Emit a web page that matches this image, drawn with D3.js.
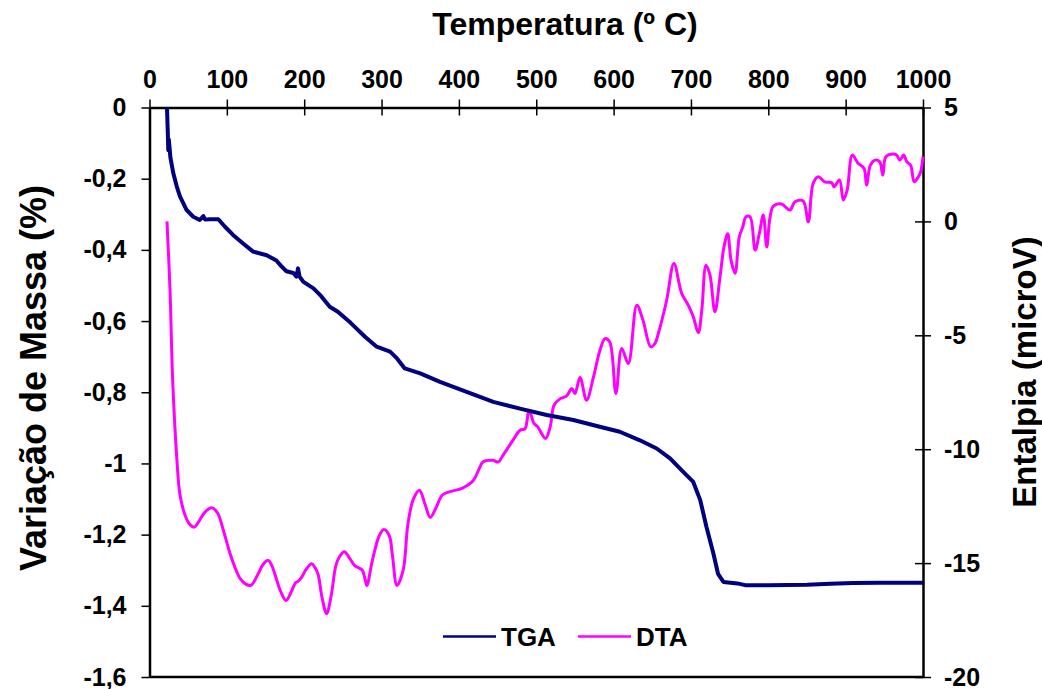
<!DOCTYPE html>
<html>
<head>
<meta charset="utf-8">
<script src="https://cdn.jsdelivr.net/npm/d3@7"></script>
<style>
  body { margin: 0; background: #fff; }
  text { font-family: "Liberation Sans", Arial, sans-serif; font-weight: bold; fill: #000; }
</style>
</head>
<body>
<div id="chart"></div>
<script>
// TGA: temperature (C) vs mass variation (%)
var tgaTemp = [22.6, 23.5, 24.3, 25, 27, 30.8, 35, 39.4, 48, 56.6, 65, 69.6, 72, 78, 89, 97.6, 108, 121, 134,
  151.5, 164, 170, 177, 186, 190, 192, 194, 199, 212, 222, 233, 243.5, 260, 278.6, 293.7, 311, 320, 330, 350,
  375.6, 410, 444.5, 479, 513.5, 548, 582, 608, 634, 655.7, 673, 690, 703, 712, 720, 729, 735, 742, 760, 770,
  800, 850, 880, 910, 944, 1000];
var tgaMass = [0, -0.06, -0.12, -0.09, -0.14, -0.185, -0.22, -0.25, -0.288, -0.307, -0.316, -0.305, -0.315,
  -0.314, -0.314, -0.335, -0.358, -0.382, -0.405, -0.415, -0.43, -0.445, -0.46, -0.465, -0.475, -0.452, -0.475,
  -0.49, -0.508, -0.53, -0.56, -0.574, -0.605, -0.644, -0.672, -0.686, -0.705, -0.733, -0.747, -0.771, -0.799,
  -0.827, -0.846, -0.864, -0.878, -0.897, -0.911, -0.935, -0.958, -0.986, -1.024, -1.052, -1.103, -1.178,
  -1.253, -1.31, -1.333, -1.337, -1.342, -1.342, -1.341, -1.338, -1.336, -1.335, -1.335];

// DTA: temperature (C) vs enthalpy (microV)
var dtaTemp = [22.6, 26.5, 30, 35.5, 39.4, 46, 52, 58, 65, 72, 80.4, 88, 95, 104, 113, 117, 123.5, 131, 140,
  147, 153.6, 158, 165, 169, 176.5, 184, 189, 192, 197, 203, 209.7, 214, 218, 223, 229, 235, 241, 246, 251.8,
  259, 265, 270, 275, 278, 281, 288, 297, 303, 310, 314, 320, 328, 334, 341, 349, 356.5, 363, 370, 379, 391,
  404, 418, 427, 431, 444, 451, 457, 470, 479, 485.5, 490.6, 497, 502, 512, 518, 523, 531, 539, 546, 550,
  556.6, 565, 574, 582, 589, 595, 603, 610.5, 619, 630, 638, 648, 653.5, 657.8, 668.6, 678, 688, 696.6, 703,
  709.5, 714, 719.5, 724.6, 731, 737.6, 742.7, 747.5, 751.8, 757, 762.5, 767, 771, 776.4, 783, 788.4, 793.5,
  798, 802, 806.5, 817, 828, 834.5, 845, 851.7, 858, 864.6, 873, 882, 885, 892, 897, 902, 908.6, 916, 923.7,
  927, 932, 938, 944, 948, 952, 961.6, 966, 970, 975, 979, 984, 988.6, 994, 997, 1000];
var dtaVolt = [0, -3.0, -7.0, -10.5, -12.0, -12.9, -13.3, -13.42, -13.1, -12.75, -12.57, -12.8, -13.5, -14.57,
  -15.4, -15.67, -15.9, -15.98, -15.5, -15.05, -14.88, -15.1, -15.8, -16.2, -16.64, -16.2, -15.85, -15.8,
  -15.6, -15.25, -15.03, -15.2, -15.5, -16.5, -17.22, -16.4, -15.1, -14.7, -14.5, -14.8, -15.1, -15.2, -15.3,
  -15.6, -15.98, -14.9, -13.8, -13.53, -13.8, -14.65, -15.98, -15.3, -13.3, -12.2, -11.8, -12.45, -13.0,
  -12.6, -12.0, -11.84, -11.72, -11.4, -10.8, -10.56, -10.49, -10.56, -10.27, -9.6, -9.17, -9.1, -8.29,
  -8.86, -9.02, -9.53, -9.02, -8.07, -7.78, -7.67, -7.34, -7.56, -6.85, -7.85, -6.83, -5.7, -5.14, -5.29,
  -7.56, -5.58, -6.24, -3.68, -4.34, -5.51, -5.36, -4.92, -3.46, -1.85, -3.16, -3.68, -4.19, -4.89, -3.9,
  -1.92, -2.36, -3.97, -2.43, -1.12, -0.54, -1.7, -2.28, -0.68, -0.24, 0.2, 0.2, -1.26, -0.53, 0.28, -1.12,
  0.13, 0.67, 0.76, 0.5, 0.86, 0.9, -0.02, 1.67, 1.96, 1.74, 1.70, 1.52, 1.82, 0.94, 1.38, 2.91, 2.55, 2.33,
  1.6, 2.47, 2.69, 2.62, 2.03, 2.84, 2.96, 2.91, 2.69, 2.91, 2.62, 2.47, 1.74, 1.96, 2.18, 2.84];

var xTicks = [0, 100, 200, 300, 400, 500, 600, 700, 800, 900, 1000];
var massTicks = [0, -0.2, -0.4, -0.6, -0.8, -1, -1.2, -1.4, -1.6];
var voltTicks = [5, 0, -5, -10, -15, -20];

var svgWidth = 1042;
var svgHeight = 689;

var margin = { top: 107.5, right: 119, bottom: 12, left: 149.5 };
var width = svgWidth - margin.left - margin.right;
var height = svgHeight - margin.top - margin.bottom;

var svg = d3.select("#chart")
  .append("svg")
  .attr("width", svgWidth)
  .attr("height", svgHeight);

var chartGroup = svg.append("g")
  .attr("transform", `translate(${margin.left}, ${margin.top})`);

var xScale = d3.scaleLinear().domain([0, 1000]).range([0, width]);
var yLeft = d3.scaleLinear().domain([-1.6, 0]).range([height, 0]);
var yRight = d3.scaleLinear().domain([-20, 5]).range([height, 0]);

function commaFmt(d) {
  return String(+d.toFixed(1)).replace(".", ",");
}

// top x axis, ticks cross the line
var xAxis = chartGroup.append("g")
  .call(d3.axisTop(xScale).tickValues(xTicks).tickFormat(d => String(d)).tickSizeOuter(0).tickPadding(14));
xAxis.selectAll(".tick line").attr("y1", -8).attr("y2", 8).attr("stroke-width", 1.5);

// left axis
var leftAxis = chartGroup.append("g")
  .call(d3.axisLeft(yLeft).tickValues(massTicks).tickFormat(commaFmt).tickSize(8).tickSizeOuter(0).tickPadding(15));
leftAxis.selectAll(".tick line").attr("stroke-width", 1.5);

// right axis, ticks cross the line
var rightAxis = chartGroup.append("g")
  .attr("transform", `translate(${width}, 0)`)
  .call(d3.axisRight(yRight).tickValues(voltTicks).tickSizeOuter(0).tickPadding(15).tickFormat(d => String(d)));
rightAxis.selectAll(".tick line").attr("x1", -8).attr("x2", 8).attr("stroke-width", 1.5);

[xAxis, leftAxis, rightAxis].forEach(function(a) {
  a.select(".domain").attr("stroke-width", 2.5);
  a.selectAll(".tick text").style("font-size", "25px").style("font-family", "Liberation Sans, Arial, sans-serif").style("font-weight", "bold");
});

// bottom frame line
chartGroup.append("line")
  .attr("x1", 0).attr("x2", width)
  .attr("y1", height).attr("y2", height)
  .attr("stroke", "#000").attr("stroke-width", 2.5);

// lines
var tgaData = tgaTemp.map((t, i) => ({ t: t, v: tgaMass[i] }));
var dtaData = dtaTemp.map((t, i) => ({ t: t, v: dtaVolt[i] }));

var tgaLine = d3.line().x(d => xScale(d.t)).y(d => yLeft(d.v));
var dtaLine = d3.line().x(d => xScale(d.t)).y(d => yRight(d.v)).curve(d3.curveCatmullRom.alpha(0.5));

chartGroup.append("path")
  .datum(dtaData)
  .attr("d", dtaLine)
  .attr("fill", "none")
  .attr("stroke", "#ff00ff")
  .attr("stroke-width", 3)
  .attr("stroke-linejoin", "round");

chartGroup.append("path")
  .datum(tgaData)
  .attr("d", tgaLine)
  .attr("fill", "none")
  .attr("stroke", "#000080")
  .attr("stroke-width", 4)
  .attr("stroke-linejoin", "round");

// titles
svg.append("text")
  .attr("x", 565).attr("y", 35)
  .attr("text-anchor", "middle")
  .style("font-size", "32px")
  .text("Temperatura (º C)");

svg.append("text")
  .attr("transform", "translate(46, 378) rotate(-90)")
  .attr("text-anchor", "middle")
  .style("font-size", "36px")
  .text("Variação de Massa (%)");

svg.append("text")
  .attr("transform", "translate(1036, 372) rotate(-90)")
  .attr("text-anchor", "middle")
  .style("font-size", "33px")
  .text("Entalpia (microV)");

// legend
var legend = svg.append("g");
var legendItems = [
  { name: "TGA", color: "#000080", x: 443 },
  { name: "DTA", color: "#ff00ff", x: 578 }
];
legendItems.forEach(function(item) {
  legend.append("line")
    .attr("x1", item.x).attr("x2", item.x + 53)
    .attr("y1", 636.5).attr("y2", 636.5)
    .attr("stroke", item.color).attr("stroke-width", 2.5);
  legend.append("text")
    .attr("x", item.x + 58).attr("y", 645.5)
    .style("font-size", "26px")
    .text(item.name);
});
</script>
</body>
</html>
